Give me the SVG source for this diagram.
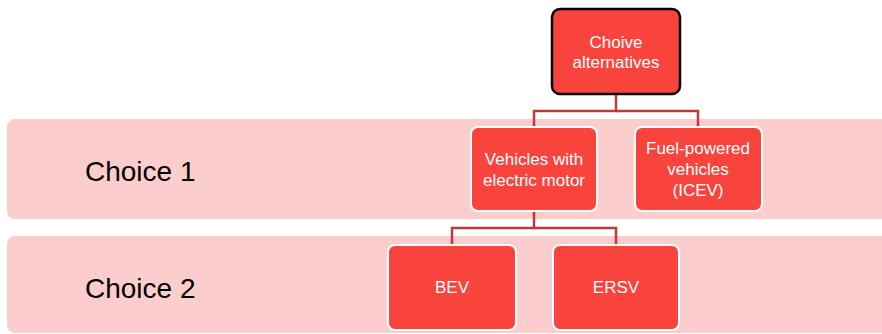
<svg xmlns="http://www.w3.org/2000/svg" width="882" height="334" viewBox="0 0 882 334">
<style>
.band{fill:#FCCDCD;}
.node{fill:#F9433D;stroke:#FFFFFF;stroke-width:2;}
.root{fill:#F9433D;stroke:#000000;stroke-width:2.5;}
.nt{font-family:"Liberation Sans",Arial,sans-serif;font-size:17px;fill:#FFFFFF;text-anchor:middle;}
.bt{font-family:"Liberation Sans",Arial,sans-serif;font-size:28px;fill:#000000;}
.conn{fill:none;stroke:#C0393A;stroke-width:2.5;}
</style>
<rect width="882" height="334" fill="#FFFFFF"/>
<g id="band1"><rect class="band" x="7" y="119" width="890" height="100" rx="8"/><text class="bt" x="85" y="181">Choice 1</text></g>
<g id="band2"><rect class="band" x="7" y="236" width="890" height="97" rx="8"/><text class="bt" x="85" y="298">Choice 2</text></g>
<g id="connectors">
<polyline class="conn" points="616,95 616,111 534,111 534,127"/>
<polyline class="conn" points="616,111 698,111 698,127"/>
<polyline class="conn" points="534,211 534,228 452,228 452,245"/>
<polyline class="conn" points="534,228 616,228 616,245"/>
</g>
<g id="root"><rect class="root" x="552" y="9" width="128" height="85" rx="8"/><text class="nt" x="616" y="47.5">Choive</text><text class="nt" x="616" y="68">alternatives</text></g>
<g id="electric"><rect class="node" x="471" y="127" width="126" height="84" rx="7"/><text class="nt" x="534" y="165">Vehicles with</text><text class="nt" x="534" y="186">electric motor</text></g>
<g id="fuel"><rect class="node" x="635" y="127" width="127" height="84" rx="7"/><text class="nt" x="698" y="154">Fuel-powered</text><text class="nt" x="698" y="175">vehicles</text><text class="nt" x="698" y="196">(ICEV)</text></g>
<g id="bev"><rect class="node" x="388" y="245" width="128" height="85" rx="7"/><text class="nt" x="452" y="293">BEV</text></g>
<g id="ersv"><rect class="node" x="553" y="245" width="126" height="85" rx="7"/><text class="nt" x="616" y="293">ERSV</text></g>
</svg>
